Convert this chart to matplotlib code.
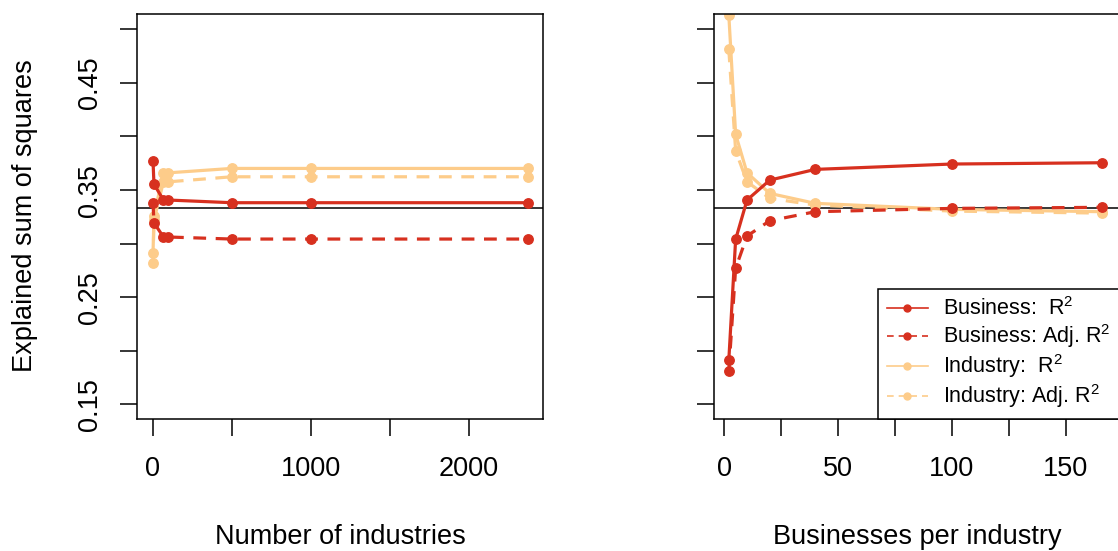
import matplotlib
matplotlib.use("Agg")
import matplotlib.pyplot as plt
from matplotlib.lines import Line2D

plt.rcParams['font.family'] = ['Liberation Sans', 'DejaVu Sans']
plt.rcParams['mathtext.fontset'] = 'custom'
plt.rcParams['mathtext.rm'] = 'Liberation Sans'

# colours (OrRd-style red and light orange)
red = '#D7301F'
orange = '#FDCC8A'

# left panel: varying the number of industries
n_industries = [2, 8, 68, 100, 500, 1000, 2375]
biz_r2_a = [0.3773, 0.3556, 0.3407, 0.3407, 0.3382, 0.3382, 0.3382]
biz_adj_a = [0.3382, 0.3195, 0.3062, 0.3062, 0.3043, 0.3043, 0.3043]
ind_r2_a = [0.2910, 0.3257, 0.3661, 0.3661, 0.3702, 0.3702, 0.3702]
ind_adj_a = [0.2822, 0.3220, 0.3577, 0.3577, 0.3624, 0.3624, 0.3624]

# right panel: varying businesses per industry
biz_per_ind = [2, 5, 10, 20, 40, 100, 166]
biz_r2_b = [0.1914, 0.3040, 0.3407, 0.3593, 0.3693, 0.3743, 0.3755]
biz_adj_b = [0.1814, 0.2770, 0.3071, 0.3214, 0.3298, 0.3329, 0.3339]
ind_r2_b = [0.5132, 0.4020, 0.3661, 0.3469, 0.3376, 0.3320, 0.3298]
ind_adj_b = [0.4812, 0.3867, 0.3577, 0.3423, 0.3360, 0.3304, 0.3285]

baseline = 1 / 3

y_ticks = [0.15, 0.20, 0.25, 0.30, 0.35, 0.40, 0.45, 0.50]
y_tick_labels = ['0.15', '', '0.25', '', '0.35', '', '0.45', '']

fs = 19.5
lw = 2.3
ms = 6.8
dash = (4, 3)

fig = plt.figure(figsize=(11.18, 5.51), dpi=100)
ax1 = fig.add_axes([0.1228, 0.2396, 0.3626, 0.735])
ax2 = fig.add_axes([0.6386, 0.2396, 0.3626, 0.735])


def draw_panel(ax, x, b_r2, b_adj, i_r2, i_adj):
    ax.plot(x, i_r2, color=orange, lw=lw, marker='o', ms=ms)
    ax.plot(x, i_adj, color=orange, lw=lw, marker='o', ms=ms, dashes=dash)
    ax.plot(x, b_r2, color=red, lw=lw, marker='o', ms=ms)
    ax.plot(x, b_adj, color=red, lw=lw, marker='o', ms=ms, dashes=dash)
    ax.axhline(baseline, color='black', lw=1.1, zorder=1.5)
    ax.set_ylim(0.1364, 0.5143)
    ax.set_yticks(y_ticks)
    for s in ax.spines.values():
        s.set_linewidth(1.1)
    ax.tick_params(direction='out', length=12, width=1.1, labelsize=fs)
    ax.tick_params(axis='x', pad=15)
    ax.tick_params(axis='y', pad=13)


draw_panel(ax1, n_industries, biz_r2_a, biz_adj_a, ind_r2_a, ind_adj_a)
ax1.set_xlim(-97.5, 2468)
ax1.set_xticks([0, 500, 1000, 1500, 2000])
ax1.set_xticklabels(['0', '', '1000', '', '2000'])
ax1.set_yticklabels(y_tick_labels, rotation=90, va='center')

draw_panel(ax2, biz_per_ind, biz_r2_b, biz_adj_b, ind_r2_b, ind_adj_b)
ax2.set_xlim(-4.53, 173.6)
ax2.set_xticks([0, 25, 50, 75, 100, 125, 150])
ax2.set_xticklabels(['0', '', '50', '', '100', '', '150'])
ax2.set_yticklabels([])

handles = [
    Line2D([], [], color=red, lw=1.2, marker='o', ms=5),
    Line2D([], [], color=red, lw=1.2, marker='o', ms=5, dashes=(4, 3)),
    Line2D([], [], color=orange, lw=1.2, marker='o', ms=5),
    Line2D([], [], color=orange, lw=1.2, marker='o', ms=5, dashes=(4, 3)),
]
labels = [r'Business:  $\mathregular{R^2}$',
          r'Business: Adj. $\mathregular{R^2}\hspace{0.35}$',
          r'Industry:  $\mathregular{R^2}$',
          r'Industry: Adj. $\mathregular{R^2}\hspace{0.35}$']
leg = ax2.legend(handles, labels, loc='lower right', bbox_to_anchor=(1, 0),
                 borderaxespad=0, fancybox=False, edgecolor='black', framealpha=1,
                 fontsize=15.5, handlelength=1.9, handletextpad=0.72,
                 labelspacing=0.1, borderpad=0.4)
leg.get_frame().set_linewidth(1.1)

fig.text(25 / 1118, 1 - 216 / 551, 'Explained sum of squares', rotation=90,
         ha='center', va='center', fontsize=fs)
fig.text(340 / 1118, 1 - 537 / 551, 'Number of industries', ha='center',
         va='center', fontsize=fs)
fig.text(917 / 1118, 1 - 537 / 551, 'Businesses per industry', ha='center',
         va='center', fontsize=fs)

fig.savefig('out.png', dpi=100)
